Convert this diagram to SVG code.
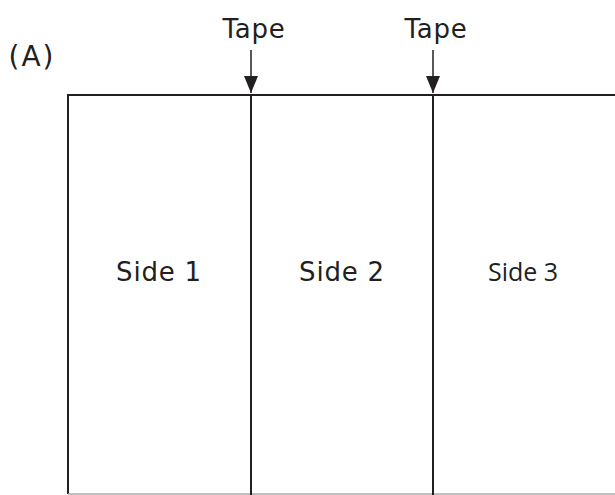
<svg xmlns="http://www.w3.org/2000/svg" width="615" height="495" viewBox="0 0 615 495">
<style>
.ln{stroke:#231f20;stroke-width:2;fill:none}
.t{font-family:"DejaVu Sans","Noto Sans",sans-serif;font-size:26px;fill:#231f20;text-anchor:middle;letter-spacing:0.8px}
.t3{font-family:"Open Sans","Liberation Sans",sans-serif;font-size:25px;fill:#231f20;text-anchor:middle}
</style>
<defs>
<marker id="ah" markerWidth="17" markerHeight="14" refX="17" refY="7" orient="auto" markerUnits="userSpaceOnUse" viewBox="0 0 17 14">
<path d="M0,0 L17,7 L0,14 Z" fill="#231f20"/>
</marker>
</defs>
<rect width="615" height="495" fill="#fff"/>
<text x="32" y="66" class="t" style="font-size:28px;letter-spacing:2px">(A)</text>
<g id="frame">
<path class="ln" d="M68,494 L68,95 L615,95"/>
<path d="M68,494 L615,494" stroke="#aaa" stroke-width="1.5"/>
</g>
<g id="side1"><text x="159" y="281" class="t">Side 1</text></g>
<g id="side2"><path class="ln" d="M251,95 L251,495"/><text x="342" y="281" class="t">Side 2</text></g>
<g id="side3"><path class="ln" d="M433,95 L433,495"/><text x="523" y="281" class="t3">Side 3</text></g>
<g id="tape1"><text x="254" y="38" class="t">Tape</text></g>
<g id="tape2"><text x="436" y="38" class="t">Tape</text></g>
<g id="connectors">
<line x1="251" y1="50" x2="251" y2="93" stroke="#231f20" stroke-width="1.5" marker-end="url(#ah)"/>
<line x1="433" y1="50" x2="433" y2="93" stroke="#231f20" stroke-width="1.5" marker-end="url(#ah)"/>
</g>
</svg>
